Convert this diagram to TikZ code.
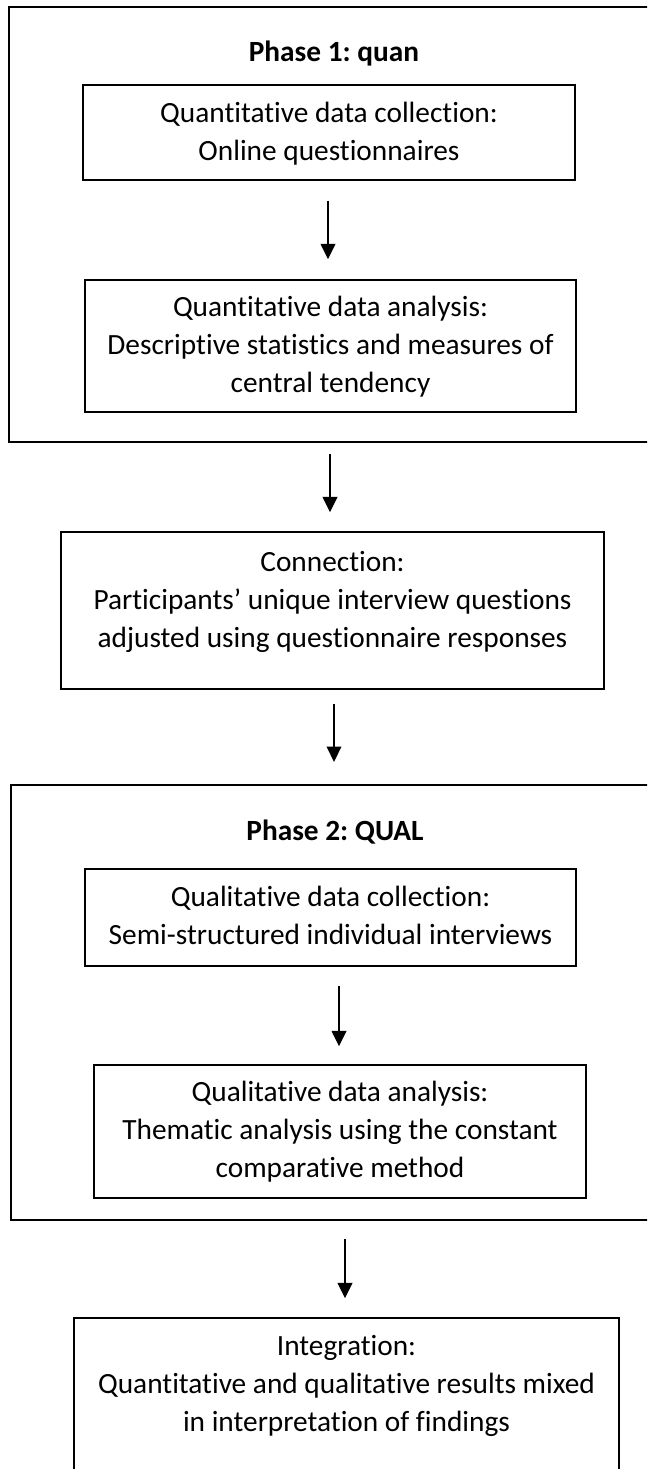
\documentclass[tikz,border=0pt]{standalone}
\usepackage{fontspec}
\setmainfont{Carlito}[Ligatures=NoCommon]
\frenchspacing
\usetikzlibrary{arrows.meta,calc}
\begin{document}
\begin{tikzpicture}[x=0.75pt,y=-0.75pt,
  box/.style={draw=black, line width=1.1pt, rectangle, inner sep=0pt},
  outerbox/.style={draw=black, line width=1.65pt, rectangle, inner sep=0pt},
  txt/.style={font=\fontsize{22pt}{28.5pt}\selectfont\frenchspacing, align=center, inner sep=0pt},
  ttl/.style={font=\fontsize{22pt}{28.5pt}\selectfont\bfseries\frenchspacing, inner sep=0pt},
  arr/.style={line width=1.1pt, -{Triangle[length=11.5pt,width=11pt]}}]
\useasboundingbox (0,0) rectangle (647,1469);
\begin{scope}
\clip (0,0) rectangle (647,1469);
% outer phase boxes
\node[outerbox, minimum width=492pt, minimum height=326.25pt] (P1) at (337,224.5) {};
\node[outerbox, minimum width=490.5pt, minimum height=326.25pt] (P2) at (338,1002.5) {};
% titles
\node[ttl, anchor=base] (T1) at (334,62) {Phase 1: quan};
\node[ttl, anchor=base] (T2) at (335,840) {Phase 2: QUAL};
% boxes
\node[box, minimum width=369pt, minimum height=71.25pt] (bA) at (329,132.5) {};
\node[box, minimum width=368.25pt, minimum height=99pt] (bB) at (330.5,346) {};
\node[box, minimum width=407.25pt, minimum height=117.75pt] (bConn) at (332.5,610.5) {};
\node[box, minimum width=368.25pt, minimum height=72.75pt] (bC) at (330.5,917.5) {};
\node[box, minimum width=369pt, minimum height=99.75pt] (bD) at (340,1131.5) {};
\node[box, minimum width=408.75pt, minimum height=136.5pt] (bI) at (346.5,1409) {};
% texts
\node[txt, anchor=north] (tA) at ($(bA.north)+(0,11.4)$) {\strut Quantitative data collection:\\Online questionnaires};
\node[txt, anchor=north] (tB) at ($(bB.north)+(0,10.4)$) {\strut Quantitative data analysis:\\Descriptive statistics and measures of\\central tendency};
\node[txt, anchor=north] (tConn) at ($(bConn.north)+(0,13.4)$) {\strut Connection:\\Participants’ unique interview questions\\adjusted using questionnaire responses};
\node[txt, anchor=north] (tC) at ($(bC.north)+(0,11.4)$) {\strut Qualitative data collection:\\Semi-structured individual interviews};
\node[txt, anchor=north] (tD) at ($(bD.north)+(0,10.4)$) {\strut Qualitative data analysis:\\Thematic analysis using the constant\\comparative method};
\node[txt, anchor=north] (tI) at ($(bI.north)+(0,11.4)$) {\strut Integration:\\Quantitative and qualitative results mixed\\in interpretation of findings};
% arrows
\coordinate (a1s) at ($(bA.south)+(-1,20)$);
\draw[arr, shorten >=15pt] (a1s) -- (a1s |- bB.north);
\coordinate (a2s) at ($(P1.south)+(-7,11)$);
\draw[arr, shorten >=14.25pt] (a2s) -- (a2s |- bConn.north);
\coordinate (a3s) at ($(bConn.south)+(1.5,14)$);
\draw[arr, shorten >=16.5pt] (a3s) -- (a3s |- P2.north);
\coordinate (a4s) at ($(bC.south)+(8.5,19)$);
\draw[arr, shorten >=13.5pt] (a4s) -- (a4s |- bD.north);
\coordinate (a5s) at ($(P2.south)+(7,18)$);
\draw[arr, shorten >=14.25pt] (a5s) -- (a5s |- bI.north);
\end{scope}
\end{tikzpicture}
\end{document}
